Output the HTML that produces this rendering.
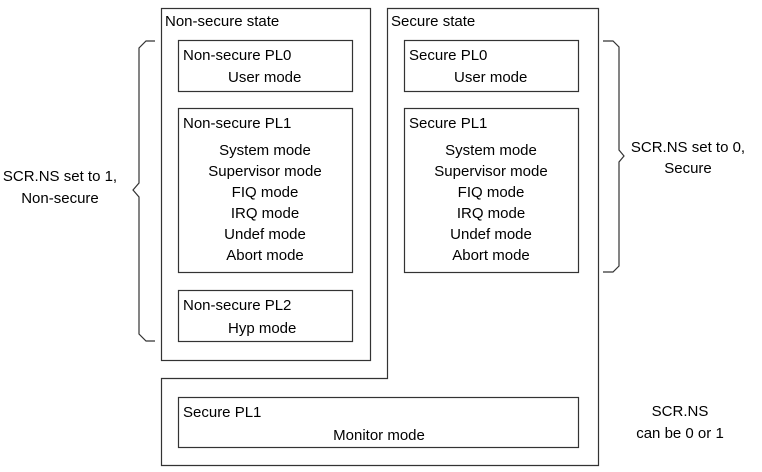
<!DOCTYPE html>
<html><head><style>
html,body{margin:0;padding:0;background:#fff;}
svg{display:block;}
text{font-family:"Liberation Sans",Arial,sans-serif;font-size:15px;fill:#000;}
</style></head><body>
<svg width="762" height="472" viewBox="0 0 762 472" xmlns="http://www.w3.org/2000/svg">
<g fill="none" stroke="#333" stroke-width="1.2">
<rect x="161.5" y="8.5" width="209" height="352"/>
<path d="M387.5 8.5 H598.5 V465.5 H161.5 V378.5 H387.5 Z"/>
<rect x="178.5" y="40.5" width="174" height="51"/>
<rect x="178.5" y="108.5" width="174" height="164"/>
<rect x="178.5" y="290.5" width="174" height="51"/>
<rect x="404.5" y="40.5" width="174" height="51"/>
<rect x="404.5" y="108.5" width="174" height="164"/>
<rect x="178.5" y="397.5" width="400" height="50"/>
<path d="M155 41 H146 L139 48 V183 L133 190 L139 197 V334 L146 341 H155"/>
<path d="M603 41 H613 L619 47 V150 L624 156 L619 162 V266 L613 272 H603"/>
</g>
<text x="165" y="26">Non-secure state</text>
<text x="391" y="26">Secure state</text>
<text x="183" y="60">Non-secure PL0</text>
<text x="228" y="82">User mode</text>
<text x="183" y="128">Non-secure PL1</text>
<g text-anchor="middle">
<text x="265" y="155">System mode</text>
<text x="265" y="176">Supervisor mode</text>
<text x="265" y="197">FIQ mode</text>
<text x="265" y="218">IRQ mode</text>
<text x="265" y="239">Undef mode</text>
<text x="265" y="260">Abort mode</text>
<text x="491" y="155">System mode</text>
<text x="491" y="176">Supervisor mode</text>
<text x="491" y="197">FIQ mode</text>
<text x="491" y="218">IRQ mode</text>
<text x="491" y="239">Undef mode</text>
<text x="491" y="260">Abort mode</text>
<text x="60" y="181">SCR.NS set to 1,</text>
<text x="60" y="203">Non-secure</text>
<text x="688" y="152">SCR.NS set to 0,</text>
<text x="688" y="173">Secure</text>
<text x="680" y="416">SCR.NS</text>
<text x="680" y="438">can be 0 or 1</text>
<text x="379" y="440">Monitor mode</text>
</g>
<text x="183" y="310">Non-secure PL2</text>
<text x="228" y="333">Hyp mode</text>
<text x="409" y="60">Secure PL0</text>
<text x="454" y="82">User mode</text>
<text x="409" y="128">Secure PL1</text>
<text x="183" y="417">Secure PL1</text>
</svg>
</body></html>
